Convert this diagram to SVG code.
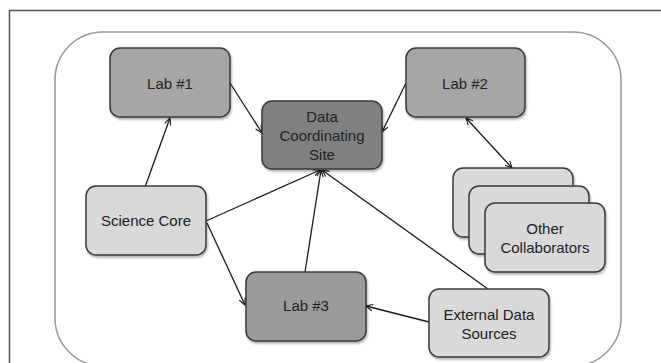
<svg xmlns="http://www.w3.org/2000/svg" width="661" height="363" viewBox="0 0 661 363">
<style>
.box{stroke:#3a3a3a;stroke-width:1.5;filter:url(#sh)}
.mid{fill:#a6a6a6}
.mid3{fill:#9b9b9b}
.dark{fill:#808080}
.light{fill:#d9d9d9}
.t{font-family:"Liberation Sans",Arial,sans-serif;font-size:15px;fill:#222;text-anchor:middle}
.c{stroke:#1a1a1a;stroke-width:1.3;fill:none}
</style>
<defs>
<filter id="sh" x="-10%" y="-10%" width="130%" height="130%">
<feDropShadow dx="1" dy="2" stdDeviation="1.2" flood-color="#000" flood-opacity="0.3"/>
</filter>
<marker id="ah" viewBox="0 0 10 10" refX="9.5" refY="5" markerWidth="8" markerHeight="8" markerUnits="userSpaceOnUse" orient="auto-start-reverse">
<path d="M1,1 L9.5,5 L1,9" fill="none" stroke="#1a1a1a" stroke-width="1.4"/>
</marker>
</defs>
<rect width="661" height="363" fill="#fff"/>
<path d="M9.5,363 V10.5 H661" fill="none" stroke="#555" stroke-width="1.5"/>
<rect x="55" y="32" width="566" height="334" rx="48" ry="48" fill="#fff" stroke="#999" stroke-width="1.5"/>
<g id="connectors">
<line class="c" x1="230" y1="83" x2="262" y2="133" marker-end="url(#ah)"/>
<line class="c" x1="406" y1="83" x2="382" y2="132" marker-end="url(#ah)"/>
<line class="c" x1="466" y1="118" x2="512" y2="168" marker-start="url(#ah)" marker-end="url(#ah)"/>
<line class="c" x1="145" y1="187" x2="170" y2="118" marker-end="url(#ah)"/>
<line class="c" x1="206" y1="221" x2="320" y2="170" marker-end="url(#ah)"/>
<line class="c" x1="207" y1="223" x2="245" y2="305" marker-end="url(#ah)"/>
<line class="c" x1="305" y1="272" x2="321" y2="170" marker-end="url(#ah)"/>
<line class="c" x1="488" y1="289" x2="322" y2="170" marker-end="url(#ah)"/>
<line class="c" x1="429" y1="322" x2="366" y2="306" marker-end="url(#ah)"/>
</g>
<g id="lab1">
<rect class="box mid" x="110" y="48" width="120" height="69" rx="10"/>
<text class="t" x="170" y="89">Lab #1</text>
</g>
<g id="lab2">
<rect class="box mid" x="406" y="48" width="119" height="69" rx="10"/>
<text class="t" x="465" y="89">Lab #2</text>
</g>
<g id="dcs">
<rect class="box dark" x="262" y="101" width="120" height="68" rx="10"/>
<text class="t" x="322" y="122">Data</text>
<text class="t" x="322" y="141">Coordinating</text>
<text class="t" x="322" y="160">Site</text>
</g>
<g id="collaborators">
<rect class="box light" x="453" y="168" width="120" height="69" rx="10"/>
<rect class="box light" x="469" y="186" width="120" height="68" rx="10"/>
<rect class="box light" x="485" y="203" width="120" height="69" rx="10"/>
<text class="t" x="545" y="234">Other</text>
<text class="t" x="545" y="253">Collaborators</text>
</g>
<g id="science-core">
<rect class="box light" x="86" y="186" width="120" height="69" rx="10"/>
<text class="t" x="146" y="226">Science Core</text>
</g>
<g id="lab3">
<rect class="box mid3" x="246" y="272" width="120" height="69" rx="10"/>
<text class="t" x="306" y="311">Lab #3</text>
</g>
<g id="external">
<rect class="box light" x="429" y="289" width="120" height="68" rx="10"/>
<text class="t" x="489" y="320">External Data</text>
<text class="t" x="489" y="339">Sources</text>
</g>
</svg>
